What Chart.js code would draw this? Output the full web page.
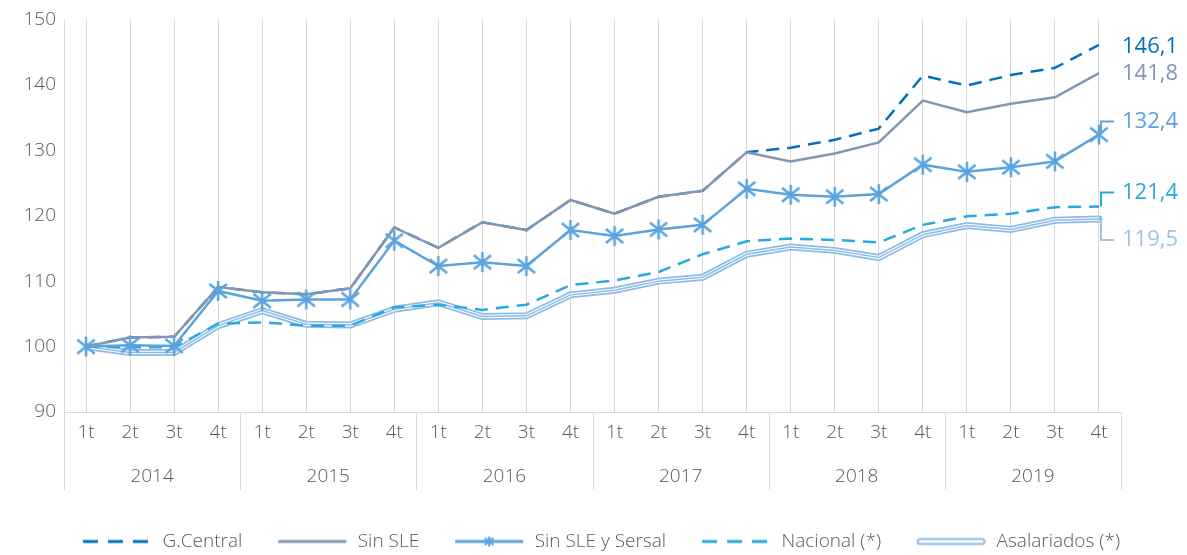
<!DOCTYPE html>
<html>
<head>
<meta charset="utf-8">
<script src="https://cdn.jsdelivr.net/npm/chart.js@4.4.1/dist/chart.umd.min.js"></script>
<style>
  html, body { margin: 0; padding: 0; background: #fff; }
  canvas { display: block; }
</style>
</head>
<body>
<canvas id="chart" width="1187" height="555"></canvas>
<script>
const years = ['2014', '2015', '2016', '2017', '2018', '2019'];
const quarters = ['1t', '2t', '3t', '4t'];
const yTicks = [90, 100, 110, 120, 130, 140, 150];

const gCentral     = [100, 101.4, 101.5, 109.1, 108.3, 108.0, 108.9, 118.2, 115.1, 119.0, 117.8, 122.4, 120.3, 122.9, 123.8, 129.7, 130.4, 131.6, 133.3, 141.4, 139.9, 141.5, 142.6, 146.1];
const sinSLE       = [100, 101.4, 101.5, 109.1, 108.3, 108.0, 108.9, 118.2, 115.1, 119.0, 117.8, 122.4, 120.3, 122.9, 123.8, 129.7, 128.3, 129.5, 131.2, 137.6, 135.8, 137.1, 138.1, 141.8];
const sinSLESersal = [100, 100.2, 100.1, 108.5, 107.0, 107.2, 107.2, 116.2, 112.3, 112.9, 112.3, 117.8, 116.9, 117.9, 118.6, 124.1, 123.2, 122.9, 123.3, 127.8, 126.7, 127.4, 128.3, 132.4];
const nacional     = [100, 99.9, 99.9, 103.5, 103.7, 103.2, 103.2, 106.0, 106.4, 105.6, 106.4, 109.4, 110.1, 111.4, 114.1, 116.1, 116.5, 116.3, 115.9, 118.6, 119.9, 120.3, 121.3, 121.4];
const asalariados  = [100, 99.1, 99.1, 103.2, 105.5, 103.4, 103.3, 105.7, 106.7, 104.6, 104.7, 107.9, 108.6, 110.0, 110.6, 114.1, 115.2, 114.7, 113.6, 117.1, 118.5, 117.9, 119.3, 119.5];

const labels = years.flatMap(() => quarters);

const C_GC = '#0070c0';
const C_SLE = '#8496b0';
const C_SER = '#5ba3dd';
const C_NAC = '#29a9e1';
const C_ASA = '#8dbbe7';

Chart.defaults.font.family = '"Open Sans", "Noto Sans", sans-serif';
Chart.defaults.font.weight = 300;
Chart.defaults.color = '#595959';

// asterisk marker (vertical line + X)
function makeAsterisk(size, color, lw) {
  const c = document.createElement('canvas');
  c.width = size; c.height = size;
  const g = c.getContext('2d');
  const m = size / 2, r = size / 2 - 1;
  g.strokeStyle = color; g.lineWidth = lw;
  g.beginPath();
  g.moveTo(m, m - r); g.lineTo(m, m + r);
  g.moveTo(m - r * 0.87, m - r * 0.7); g.lineTo(m + r * 0.87, m + r * 0.7);
  g.moveTo(m - r * 0.87, m + r * 0.7); g.lineTo(m + r * 0.87, m - r * 0.7);
  g.stroke();
  return c;
}

// legend samples
function makeSample(kind) {
  const w = 72, h = 16;
  const c = document.createElement('canvas');
  c.width = w; c.height = h;
  const g = c.getContext('2d');
  const y = h / 2;
  g.lineCap = 'butt';
  if (kind === 'gc' || kind === 'nac') {
    g.strokeStyle = kind === 'gc' ? C_GC : C_NAC;
    g.lineWidth = 3;
    g.setLineDash([15, 10]);
    g.beginPath(); g.moveTo(2, y); g.lineTo(w, y); g.stroke();
  } else if (kind === 'sle') {
    g.strokeStyle = C_SLE; g.lineWidth = 3;
    g.beginPath(); g.moveTo(2, y); g.lineTo(w - 2, y); g.stroke();
  } else if (kind === 'ser') {
    g.strokeStyle = C_SER; g.lineWidth = 3;
    g.beginPath(); g.moveTo(2, y); g.lineTo(w - 2, y); g.stroke();
    g.drawImage(makeAsterisk(12, C_SER, 2), w / 2 - 6, y - 6);
  } else {
    g.lineCap = 'round';
    g.strokeStyle = C_ASA; g.lineWidth = 7;
    g.beginPath(); g.moveTo(5, y); g.lineTo(w - 5, y); g.stroke();
    g.strokeStyle = '#ffffff'; g.lineWidth = 3;
    g.beginPath(); g.moveTo(5, y); g.lineTo(w - 5, y); g.stroke();
  }
  return c;
}

const star = makeAsterisk(22, C_SER, 2.5);

const endLabelPlugin = {
  id: 'endLabels',
  afterDatasetsDraw(chart) {
    const ctx = chart.ctx;
    ctx.save();
    ctx.font = '400 22px "Open Sans", sans-serif';
    ctx.textBaseline = 'middle';
    ctx.textAlign = 'left';
    chart.data.datasets.forEach((ds, i) => {
      const lab = ds.endLabel;
      if (!lab) return;
      const meta = chart.getDatasetMeta(i);
      const pt = meta.data[meta.data.length - 1];
      const v = ds.data[ds.data.length - 1];
      const ly = pt.y + lab.dy;
      if (lab.leader) {
        ctx.strokeStyle = lab.color;
        ctx.lineWidth = 2;
        ctx.beginPath();
        ctx.moveTo(pt.x + 2, pt.y);
        ctx.lineTo(pt.x + 2, ly);
        ctx.lineTo(pt.x + 15, ly);
        ctx.stroke();
      }
      ctx.fillStyle = lab.color;
      ctx.fillText(v.toFixed(1).replace('.', ','), pt.x + 23, ly);
    });
    ctx.restore();
  }
};

const yearSepPlugin = {
  id: 'yearSep',
  afterLayout(chart) {
    // nudge legend to match the reference placement
    const lg = chart.legend;
    lg.top += 6; lg.bottom += 6;
    lg.left += 40; lg.right += 40;
  },
  afterDraw(chart) {
    const xs = chart.scales.x, ys = chart.scales.year;
    const ctx = chart.ctx;
    ctx.save();
    ctx.strokeStyle = '#d9d9d9';
    ctx.lineWidth = 1;
    for (let k = 0; k <= years.length; k++) {
      const x = Math.round(xs.left + k * xs.width / years.length) + 0.5;
      ctx.beginPath();
      ctx.moveTo(x, xs.top);
      ctx.lineTo(x, ys.bottom - 2);
      ctx.stroke();
    }
    ctx.restore();
  }
};

new Chart(document.getElementById('chart'), {
  type: 'line',
  data: {
    labels: labels,
    datasets: [
      {
        label: 'G.Central', data: gCentral, order: 2,
        borderColor: C_GC, borderWidth: 2.5, borderDash: [13, 8],
        pointRadius: 0, tension: 0, legendImg: makeSample('gc'),
        endLabel: { color: C_GC, dy: 2 }
      },
      {
        label: 'Sin SLE', data: sinSLE, order: 1,
        borderColor: C_SLE, borderWidth: 2.5,
        pointRadius: 0, tension: 0, legendImg: makeSample('sle'),
        endLabel: { color: C_SLE, dy: 1 }
      },
      {
        label: 'Sin SLE y Sersal', data: sinSLESersal, order: 0,
        borderColor: C_SER, borderWidth: 2.5,
        pointStyle: star, pointRadius: 10, tension: 0, legendImg: makeSample('ser'),
        endLabel: { color: C_SER, dy: -13, leader: true }
      },
      {
        label: 'Nacional (*)', data: nacional, order: 3,
        borderColor: C_NAC, borderWidth: 2.5, borderDash: [13, 8],
        pointRadius: 0, tension: 0, legendImg: makeSample('nac'),
        endLabel: { color: C_NAC, dy: -14, leader: true }
      },
      {
        label: 'Asalariados (*)', data: asalariados, order: 6,
        borderColor: C_ASA, borderWidth: 7,
        pointRadius: ctx => ctx.dataIndex === asalariados.length - 1 ? 3.5 : 0,
        pointBackgroundColor: C_ASA, pointBorderWidth: 0,
        tension: 0, legendImg: makeSample('asa'),
        endLabel: { color: '#9dc3e6', dy: 21, leader: true }
      },
      {
        label: '_asaInner', data: asalariados, order: 5,
        borderColor: '#ffffff', borderWidth: 3.5, pointRadius: 0, tension: 0
      },
      {
        label: '_asaCore', data: asalariados, order: 4,
        borderColor: C_ASA, borderWidth: 1.5, pointRadius: 0, tension: 0
      }
    ]
  },
  options: {
    responsive: false,
    animation: false,
    devicePixelRatio: 1,
    layout: { padding: { top: 8, right: 66, left: 0, bottom: 0 } },
    plugins: {
      tooltip: { enabled: false },
      legend: {
        position: 'bottom',
        labels: {
          usePointStyle: true,
          pointStyleWidth: 72,
          boxHeight: 16,
          padding: 34,
          color: '#595959',
          font: { size: 19, weight: 300 },
          filter: item => !item.text.startsWith('_'),
          sort: (a, b) => a.datasetIndex - b.datasetIndex,
          generateLabels(chart) {
            const items = Chart.defaults.plugins.legend.labels.generateLabels(chart);
            items.forEach(it => {
              it.pointStyle = chart.data.datasets[it.datasetIndex].legendImg;
            });
            return items;
          }
        }
      }
    },
    scales: {
      x: {
        type: 'category',
        offset: true,
        grid: { display: true, color: '#d9d9d9', drawTicks: false, offset: false },
        border: { display: true, color: '#d9d9d9' },
        ticks: { autoSkip: false, maxRotation: 0, padding: 9, color: '#595959', font: { size: 19, weight: 300 } },
        afterFit(scale) { scale.height = 40; }
      },
      year: {
        type: 'category',
        labels: years,
        position: 'bottom',
        offset: true,
        grid: { display: false },
        border: { display: false },
        ticks: { padding: 5, color: '#595959', font: { size: 19, weight: 300 } },
        afterFit(scale) { scale.height = 40; }
      },
      y: {
        min: yTicks[0], max: yTicks[yTicks.length - 1],
        afterBuildTicks(scale) { scale.ticks = yTicks.map(v => ({ value: v })); },
        grid: { display: false, drawTicks: false },
        border: { display: true, color: '#d9d9d9' },
        ticks: { padding: 8, color: '#595959', font: { size: 19, weight: 300 } },
        afterFit(scale) { scale.width = 64; }
      }
    }
  },
  plugins: [endLabelPlugin, yearSepPlugin]
});
</script>
</body>
</html>
